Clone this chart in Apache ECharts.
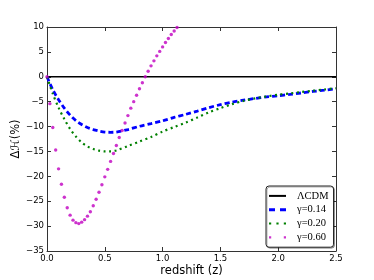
<!DOCTYPE html>
<html>
<head>
<meta charset="utf-8">
<script src="https://cdn.jsdelivr.net/npm/echarts@6/dist/echarts.min.js"></script>
<style>html,body{margin:0;padding:0;background:#fff;}#c{width:374px;height:280px;}</style>
</head>
<body>
<div id="c"></div>
<script>
const xTicks = [0.0, 0.5, 1.0, 1.5, 2.0, 2.5];
const yTicks = [-35, -30, -25, -20, -15, -10, -5, 0, 5, 10];
const legendNames = ['ΛCDM', 'γ=0.14', 'γ=0.20', 'γ=0.60'];

const zLcdm = [0, 2.5];
const lcdm = [0, 0];

const zCurve = [0, 0.05, 0.1, 0.15, 0.2, 0.25, 0.3, 0.35, 0.4, 0.45, 0.5, 0.55, 0.6, 0.7, 0.8, 0.9, 1.0, 1.1, 1.2, 1.3, 1.4, 1.5, 1.6, 1.7, 1.8, 1.9, 2.0, 2.1, 2.2, 2.3, 2.4, 2.5];
const gamma014 = [0, -2.6, -4.6, -6.3, -7.7, -8.8, -9.6, -10.2, -10.6, -10.9, -11.1, -11.15, -11.1, -10.6, -9.95, -9.4, -8.85, -8.15, -7.55, -6.9, -6.2, -5.6, -5.1, -4.7, -4.35, -4.05, -3.8, -3.55, -3.25, -2.95, -2.7, -2.4];
const gamma020 = [0, -3.4, -6.2, -8.5, -10.5, -12.0, -13.2, -14.0, -14.5, -14.85, -15.0, -15.0, -14.8, -13.9, -13.0, -12.1, -11.0, -10.1, -9.2, -8.2, -7.15, -6.3, -5.5, -4.85, -4.35, -3.95, -3.6, -3.35, -3.05, -2.8, -2.55, -2.3];

const zDots = [0, 0.025, 0.05, 0.075, 0.1, 0.125, 0.15, 0.175, 0.2, 0.225, 0.25, 0.275, 0.3, 0.325, 0.35, 0.375, 0.4, 0.425, 0.45, 0.475, 0.5, 0.525, 0.55, 0.575, 0.6, 0.625, 0.65, 0.675, 0.7, 0.725, 0.75, 0.775, 0.8, 0.825, 0.85, 0.875, 0.9, 0.925, 0.95, 0.975, 1.0, 1.025, 1.05, 1.075, 1.1, 1.125];
const gamma060 = [0, -5.4, -10.2, -14.7, -18.5, -21.6, -24.2, -26.3, -27.8, -28.8, -29.3, -29.5, -29.2, -28.7, -28.0, -27.1, -25.9, -24.6, -23.2, -21.7, -20.1, -18.6, -17.0, -15.4, -13.8, -12.2, -10.8, -9.3, -7.8, -6.3, -5.0, -3.7, -2.4, -1.2, 0.0, 1.1, 2.2, 3.2, 4.2, 5.1, 6.0, 6.9, 7.7, 8.5, 9.2, 9.9];

const pair = (xs, ys) => xs.map((x, i) => [x, ys[i]]);
const fmtY = v => String(v).replace('-', '\u2212');
const fmtX = v => v.toFixed(1);

const xMin = xTicks[0], xMax = xTicks[xTicks.length - 1], xInt = xTicks[1] - xTicks[0];
const yMin = yTicks[0], yMax = yTicks[yTicks.length - 1], yInt = yTicks[1] - yTicks[0];

const frameLine = { show: true, onZero: false, lineStyle: { color: '#333', width: 1 } };
const tickIn = { show: true, inside: true, length: 4, lineStyle: { color: '#333', width: 1 } };
const tickFont = { fontFamily: 'DejaVu Sans', fontSize: 8.5, color: '#000' };

const chart = echarts.init(document.getElementById('c'), null, { renderer: 'canvas' });
chart.setOption({
  animation: false,
  backgroundColor: '#fff',
  grid: { left: 47, right: 38, top: 27, bottom: 29, containLabel: false, outerBoundsMode: 'none' },
  xAxis: [
    { type: 'value', position: 'bottom', min: xMin, max: xMax, interval: xInt,
      axisLine: frameLine, axisTick: tickIn, splitLine: { show: false },
      axisLabel: Object.assign({ margin: 3, formatter: fmtX }, tickFont),
      name: 'redshift (z)', nameLocation: 'middle', nameGap: 14, nameMoveOverlap: false,
      nameTextStyle: { fontFamily: 'DejaVu Sans', fontSize: 11.5, color: '#000', verticalAlign: 'top' } },
    { type: 'value', position: 'top', min: xMin, max: xMax, interval: xInt,
      axisLine: frameLine, axisTick: tickIn, splitLine: { show: false }, axisLabel: { show: false } }
  ],
  yAxis: [
    { type: 'value', position: 'left', min: yMin, max: yMax, interval: yInt,
      axisLine: frameLine, axisTick: tickIn, splitLine: { show: false },
      axisLabel: Object.assign({ margin: 3, formatter: fmtY }, tickFont),
      name: 'Δℋ(%)', nameLocation: 'middle', nameGap: 25, nameMoveOverlap: false,
      nameTextStyle: { fontFamily: 'DejaVu Sans', fontSize: 11.5, color: '#000' } },
    { type: 'value', position: 'right', min: yMin, max: yMax, interval: yInt,
      axisLine: frameLine, axisTick: tickIn, splitLine: { show: false }, axisLabel: { show: false } }
  ],
  legend: {
    orient: 'vertical', left: 266, top: 186,
    data: [
      { name: legendNames[0], icon: 'path://M0,0h17v2h-17z' },
      { name: legendNames[1], icon: 'path://M0,0h6v3h-6z M11,0h6v3h-6z' },
      { name: legendNames[2], icon: 'path://M0,0h2.2v2.2h-2.2z M7.4,0h2.2v2.2h-2.2z M14.8,0h2.2v2.2h-2.2z' },
      { name: legendNames[3], icon: 'path://M0,0h2.2v2.2h-2.2z M14.8,0h2.2v2.2h-2.2z' }
    ],
    itemWidth: 17, itemHeight: 3, itemGap: 0,
    padding: [3, 5, 3, 3],
    backgroundColor: '#fff', borderColor: '#222', borderWidth: 1, borderRadius: 3,
    shadowColor: 'rgba(0,0,0,0.3)', shadowOffsetX: 1, shadowOffsetY: 1, shadowBlur: 0,
    textStyle: { fontFamily: 'Liberation Serif', fontSize: 10.5, color: '#000', lineHeight: 13.8, padding: [0, 0, 0, 6] }
  },
  series: [
    { name: legendNames[0], type: 'line', data: pair(zLcdm, lcdm), showSymbol: false, symbol: 'none',
      itemStyle: { color: '#000' }, lineStyle: { color: '#000', width: 1.6 }, z: 2 },
    { name: legendNames[1], type: 'line', data: pair(zCurve, gamma014), showSymbol: false, symbol: 'none', smooth: 0.3,
      itemStyle: { color: '#0000ff' }, lineStyle: { color: '#0000ff', width: 2.8, type: [5, 3] }, z: 3 },
    { name: legendNames[2], type: 'line', data: pair(zCurve, gamma020), showSymbol: false, symbol: 'none', smooth: 0.3,
      itemStyle: { color: '#008000' }, lineStyle: { color: '#008000', width: 2.2, type: [2, 3.5] }, z: 3 },
    { name: legendNames[3], type: 'scatter', data: pair(zDots, gamma060), symbol: 'circle', symbolSize: 3.4,
      itemStyle: { color: '#c000c0' }, clip: true, z: 4 }
  ]
});
</script>
</body>
</html>
